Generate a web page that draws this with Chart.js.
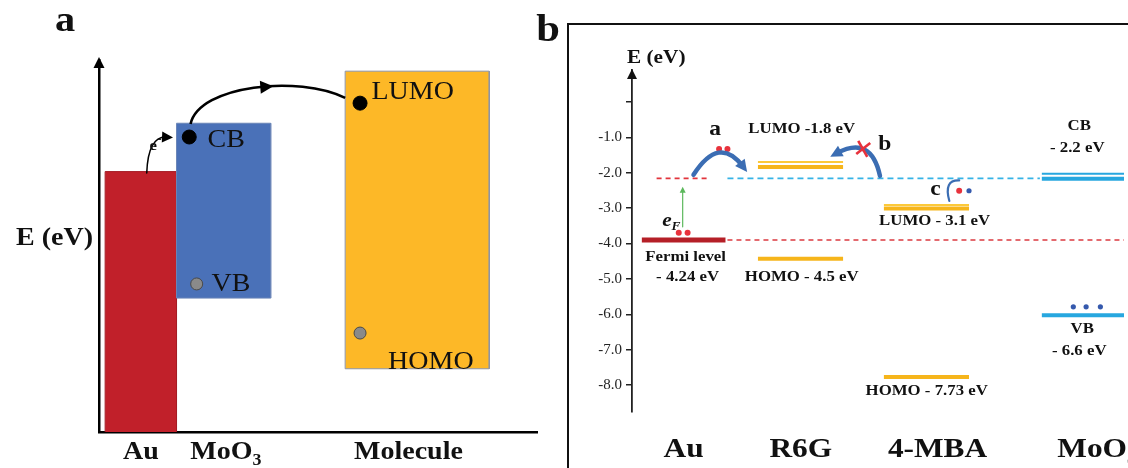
<!DOCTYPE html>
<html>
<head>
<meta charset="utf-8">
<script src="https://cdn.jsdelivr.net/npm/chart.js@4.4.1/dist/chart.umd.min.js"></script>
<style>
  html, body { margin: 0; padding: 0; background: #fff; overflow: hidden; }
  #wrap { position: relative; width: 1128px; height: 468px; }
  canvas { position: absolute; top: 0; }
  #panelA { left: 0; }
  #panelB { left: 530px; }
</style>
</head>
<body>
<div id="wrap">
  <canvas id="panelA" width="545" height="468"></canvas>
  <canvas id="panelB" width="598" height="468"></canvas>
</div>
<script>
// ---- panel a: schematic band alignment (arbitrary energy scale 0-100)
const materialsA = ['Au', 'MoO', 'Molecule'];
const bandTopA = [70, 83, 97];
const bandBottomA = [0, 36, 17];
const spanStartA = [1.4, 17.7, 56.2];
const spanEndA = [17.7, 39.2, 89.1];
const stateNamesA = ['CB', 'VB', 'LUMO', 'HOMO'];
const stateXA = [20.6, 22.3, 59.6, 59.6];
const stateYA = [79.3, 39.8, 88.4, 26.6];

// ---- panel b: energy levels (eV) as drawn
const speciesB = ['Au', 'R6G', '4-MBA', 'MoO'];
const colStartB = [0.2, 2.56, 5.12, 8.33];
const colEndB = [1.9, 4.29, 6.85, 10.6];
const auFermi = [-3.90];
const r6gLumo = [-1.70, -1.84];
const r6gHomo = [-4.43];
const mbaLumo = [-2.91, -3.01];
const mbaHomo = [-7.77];
const mooCB = [-2.03, -2.17];
const mooVB = [-6.03];
const injectLevel = [-2.16];
const tickValuesB = [0, -1, -2, -3, -4, -5, -6, -7, -8];
const redDotsX = [1.77, 1.94, 0.95, 1.13, 6.65];
const redDotsY = [-1.33, -1.33, -3.70, -3.70, -2.51];
const blueDotsX = [6.85, 8.97, 9.23, 9.52];
const blueDotsY = [-2.51, -5.79, -5.79, -5.79];

const SERIF = '"Liberation Serif", "Times New Roman", serif';
const SX = 1.12; // the figure's lettering is a bit wide

function drawText(ctx, s, x, y, font, align = 'center', color = '#111') {
  ctx.save();
  ctx.font = font;
  ctx.fillStyle = color;
  ctx.textBaseline = 'middle';
  ctx.textAlign = 'left';
  const w = ctx.measureText(s).width * SX;
  let x0 = x;
  if (align === 'center') x0 = x - w / 2;
  else if (align === 'right') x0 = x - w;
  ctx.translate(x0, y);
  ctx.scale(SX, 1);
  ctx.fillText(s, 0, 0);
  ctx.restore();
  return w;
}

function drawSubText(ctx, base, sub, x, y, size, weight, style = '') {
  const f1 = `${style} ${weight} ${size}px ${SERIF}`;
  const f2 = `${style} ${weight} ${Math.round(size * 0.62)}px ${SERIF}`;
  ctx.save();
  ctx.font = f1;
  const wb = ctx.measureText(base).width * SX;
  ctx.font = f2;
  const ws = ctx.measureText(sub).width * SX;
  ctx.restore();
  const x0 = x - (wb + ws) / 2;
  drawText(ctx, base, x0, y, f1, 'left');
  drawText(ctx, sub, x0 + wb, y + size * 0.3, f2, 'left');
}

function arrowHead(ctx, x, y, ang, size) {
  const c = Math.cos(ang), s = Math.sin(ang);
  ctx.beginPath();
  ctx.moveTo(x, y);
  ctx.lineTo(x - size * c + size * 0.5 * s, y - size * s - size * 0.5 * c);
  ctx.lineTo(x - size * c - size * 0.5 * s, y - size * s + size * 0.5 * c);
  ctx.closePath();
  ctx.fill();
}

function quadArrow(ctx, p0, c, p1, color, width, head) {
  ctx.save();
  ctx.strokeStyle = color;
  ctx.fillStyle = color;
  ctx.lineWidth = width;
  ctx.lineCap = 'round';
  const ang = Math.atan2(p1.y - c.y, p1.x - c.x);
  const k = head ? head * 0.6 : 0;
  ctx.beginPath();
  ctx.moveTo(p0.x, p0.y);
  ctx.quadraticCurveTo(c.x, c.y, p1.x - Math.cos(ang) * k, p1.y - Math.sin(ang) * k);
  ctx.stroke();
  if (head) arrowHead(ctx, p1.x, p1.y, ang, head);
  ctx.restore();
}

// ---------------- panel a ----------------
const boxColorsA = ['#c1202a', '#4a71b8', '#fdb827'];
const boxBorderA = ['#a51b24', '#6a86b8', '#8c94a8'];

// outline of each band: up, across, down; filled back down to its bottom energy
const boxSetsA = materialsA.map((m, i) => ({
  type: 'line',
  label: m,
  order: 3 - i,
  data: [
    { x: spanStartA[i], y: bandBottomA[i] },
    { x: spanStartA[i], y: bandTopA[i] },
    { x: spanEndA[i], y: bandTopA[i] },
    { x: spanEndA[i], y: bandBottomA[i] }
  ],
  borderColor: boxBorderA[i],
  borderWidth: 1,
  backgroundColor: boxColorsA[i],
  fill: { value: bandBottomA[i] },
  pointRadius: 0,
  tension: 0
}));

const stateSetA = {
  type: 'scatter',
  order: -1,
  data: stateXA.map((x, i) => ({ x, y: stateYA[i] })),
  pointRadius: [7, 6, 7, 6],
  backgroundColor: ['#000', '#8a8a8a', '#000', '#8a8a8a'],
  borderColor: ['#000', '#4a4a4a', '#000', '#4a4a4a'],
  borderWidth: 1
};

const panelADecor = {
  id: 'panelADecor',
  afterDraw(chart) {
    const { ctx, chartArea: a, scales: { x, y } } = chart;
    const px = v => x.getPixelForValue(v);
    const py = v => y.getPixelForValue(v);

    // bottom edges of the floating bands
    ctx.save();
    ctx.lineWidth = 1;
    [1, 2].forEach(i => {
      ctx.strokeStyle = boxBorderA[i];
      ctx.beginPath();
      ctx.moveTo(px(spanStartA[i]), py(bandBottomA[i]));
      ctx.lineTo(px(spanEndA[i]), py(bandBottomA[i]));
      ctx.stroke();
    });
    ctx.restore();

    // axis arrow
    ctx.fillStyle = '#000';
    arrowHead(ctx, a.left, a.top - 3, -Math.PI / 2, 11);

    drawText(ctx, 'a', 65, 22, `bold 36px ${SERIF}`);
    drawText(ctx, 'E (eV)', a.left - 6, py(52), `bold 25px ${SERIF}`, 'right');

    // state labels
    const offs = [4.2, 3.4, 2.6, 6.4];
    const dy = [-1, 0, 3, -8];
    stateNamesA.forEach((s, i) => {
      drawText(ctx, s, px(stateXA[i] + offs[i]), py(stateYA[i] + dy[i]), `25px ${SERIF}`, 'left');
    });

    // material labels under the axis
    const lblY = a.bottom + 21;
    drawText(ctx, 'Au', px((spanStartA[0] + spanEndA[0]) / 2), lblY, `bold 25px ${SERIF}`);
    drawSubText(ctx, 'MoO', '3', px((spanStartA[1] + spanEndA[1]) / 2 + 0.5), lblY, 25, 'bold');
    drawText(ctx, 'Molecule', px((spanStartA[2] + spanEndA[2]) / 2 - 2), lblY, `bold 25px ${SERIF}`);

    // e- hop from Au to CB
    quadArrow(ctx,
      { x: px(10.9), y: py(69.6) },
      { x: px(11.2), y: py(79.5) },
      { x: px(16.9), y: py(79.2) },
      '#000', 1.5, 11);
    drawText(ctx, 'e', px(12.4), py(76.8), `bold 15px ${SERIF}`);
    drawText(ctx, '-', px(13.8), py(78.6), `bold 11px ${SERIF}`);

    // big hop from CB to LUMO (cubic, arrowhead part way)
    const P = [[20.9, 82.8], [22.9, 93.3], [45.6, 96.0], [56.2, 89.8]].map(p => ({ x: px(p[0]), y: py(p[1]) }));
    ctx.save();
    ctx.strokeStyle = '#000';
    ctx.lineWidth = 2.6;
    ctx.beginPath();
    ctx.moveTo(P[0].x, P[0].y);
    ctx.bezierCurveTo(P[1].x, P[1].y, P[2].x, P[2].y, P[3].x, P[3].y);
    ctx.stroke();
    const t = 0.57, u = 1 - t;
    const bx = u * u * u * P[0].x + 3 * u * u * t * P[1].x + 3 * u * t * t * P[2].x + t * t * t * P[3].x;
    const by = u * u * u * P[0].y + 3 * u * u * t * P[1].y + 3 * u * t * t * P[2].y + t * t * t * P[3].y;
    const dx = 3 * u * u * (P[1].x - P[0].x) + 6 * u * t * (P[2].x - P[1].x) + 3 * t * t * (P[3].x - P[2].x);
    const dyy = 3 * u * u * (P[1].y - P[0].y) + 6 * u * t * (P[2].y - P[1].y) + 3 * t * t * (P[3].y - P[2].y);
    ctx.fillStyle = '#000';
    arrowHead(ctx, bx + 6, by, Math.atan2(dyy, dx), 13);
    ctx.restore();
  }
};

new Chart(document.getElementById('panelA'), {
  type: 'line',
  data: { datasets: [...boxSetsA, stateSetA] },
  options: {
    responsive: false,
    animation: false,
    events: [],
    layout: { padding: { left: 99, right: 5, top: 60, bottom: 36 } },
    plugins: { legend: { display: false }, tooltip: { enabled: false }, filler: { propagate: false } },
    scales: {
      x: {
        type: 'linear', min: 0, max: 100,
        ticks: { display: false }, grid: { display: false },
        border: { display: true, color: '#000', width: 2.5 },
        afterFit: s => { s.height = 0; }
      },
      y: {
        type: 'linear', min: 0, max: 100,
        ticks: { display: false }, grid: { display: false },
        border: { display: true, color: '#000', width: 2.5 },
        afterFit: s => { s.width = 0; }
      }
    }
  },
  plugins: [panelADecor]
});

// ---------------- panel b ----------------
function levelSet(x0, x1, y, color, width, dash) {
  return {
    type: 'line',
    data: [{ x: x0, y }, { x: x1, y }],
    borderColor: color,
    borderWidth: width,
    borderDash: dash || [],
    borderCapStyle: 'butt',
    pointRadius: 0,
    fill: false
  };
}

const yellowThin = '#fcc93a', yellow = '#f6b51b', cyan = '#27a7df';

const levelSetsB = [
  levelSet(0.5, 1.57, injectLevel[0], '#e2343c', 1.6, [5, 4]),
  levelSet(1.94, 8.29, injectLevel[0], '#36b3e6', 1.6, [6, 4]),
  levelSet(1.94, 10, auFermi[0], '#dc3a40', 1.4, [5, 4]),
  levelSet(colStartB[0], colEndB[0], auFermi[0], '#b51f27', 5),
  levelSet(colStartB[1], colEndB[1], r6gLumo[0], yellowThin, 2),
  levelSet(colStartB[1], colEndB[1], r6gLumo[1], yellow, 4),
  levelSet(colStartB[1], colEndB[1], r6gHomo[0], yellow, 4),
  levelSet(colStartB[2], colEndB[2], mbaLumo[0], yellowThin, 2),
  levelSet(colStartB[2], colEndB[2], mbaLumo[1], yellow, 4),
  levelSet(colStartB[2], colEndB[2], mbaHomo[0], yellow, 4),
  levelSet(colStartB[3], colEndB[3], mooCB[0], cyan, 2),
  levelSet(colStartB[3], colEndB[3], mooCB[1], cyan, 4),
  levelSet(colStartB[3], colEndB[3], mooVB[0], cyan, 4)
];

const dotSetsB = [
  { type: 'scatter', order: -1, data: redDotsX.map((x, i) => ({ x, y: redDotsY[i] })),
    pointRadius: 3, backgroundColor: '#e8323c', borderWidth: 0 },
  { type: 'scatter', order: -1, data: blueDotsX.map((x, i) => ({ x, y: blueDotsY[i] })),
    pointRadius: 2.6, backgroundColor: '#3559ad', borderWidth: 0 }
];

const panelBDecor = {
  id: 'panelBDecor',
  afterDraw(chart) {
    const { ctx, chartArea: a, scales: { x, y } } = chart;
    const px = v => x.getPixelForValue(v);
    const py = v => y.getPixelForValue(v);
    const P = (vx, vy) => ({ x: px(vx), y: py(vy) });
    const B15 = `bold 15px ${SERIF}`;
    const B20 = `bold 21px ${SERIF}`;

    // panel frame and letter
    ctx.save();
    ctx.strokeStyle = '#111';
    ctx.lineWidth = 2;
    ctx.beginPath();
    ctx.moveTo(38, chart.height);
    ctx.lineTo(38, 24);
    ctx.lineTo(chart.width, 24);
    ctx.stroke();
    ctx.restore();
    drawText(ctx, 'b', 18, 31, `bold 38px ${SERIF}`);

    // axis arrow + title
    ctx.fillStyle = '#111';
    arrowHead(ctx, a.left, a.top - 1, -Math.PI / 2, 10);
    drawText(ctx, 'E (eV)', a.left - 5, py(1.25), `bold 19px ${SERIF}`, 'left');

    // level labels
    drawText(ctx, 'a', px(1.69), py(-0.79), B20);
    drawText(ctx, 'LUMO -1.8 eV', px(3.45), py(-0.76), B15);
    drawText(ctx, 'b', px(5.14), py(-1.21), B20);
    drawText(ctx, 'CB', px(9.09), py(-0.68), B15);
    drawText(ctx, '- 2.2 eV', px(9.05), py(-1.30), B15);
    drawText(ctx, 'c', px(6.17), py(-2.49), B20);
    drawText(ctx, 'LUMO - 3.1 eV', px(6.15), py(-3.36), B15);
    drawSubText(ctx, 'e', 'F', px(0.8), py(-3.37), 19, 'bold', 'italic');
    drawText(ctx, 'Fermi level', px(1.09), py(-4.38), B15);
    drawText(ctx, '- 4.24 eV', px(1.13), py(-4.94), B15);
    drawText(ctx, 'HOMO - 4.5 eV', px(3.45), py(-4.94), B15);
    drawText(ctx, 'VB', px(9.15), py(-6.41), B15);
    drawText(ctx, '- 6.6 eV', px(9.09), py(-7.03), B15);
    drawText(ctx, 'HOMO - 7.73 eV', px(5.99), py(-8.16), B15);

    // species labels along the bottom
    const catY = py(-9.83);
    const catX = [1.05, 3.43, 6.21];
    speciesB.slice(0, 3).forEach((s, i) => drawText(ctx, s, px(catX[i]), catY, `bold 28px ${SERIF}`));
    drawSubText(ctx, speciesB[3], '3', px(9.45), catY, 28, 'bold');

    // transfer arrows
    const blue = '#3b6db3';
    quadArrow(ctx, P(1.25, -2.06), P(1.77, -0.93), P(2.34, -1.98), blue, 4.5, 12);
    quadArrow(ctx, P(5.04, -2.09), P(4.86, -0.93), P(4.03, -1.55), blue, 4.5, 12);
    quadArrow(ctx, P(6.45, -2.80), P(6.33, -2.20), P(6.65, -2.22), blue, 2.2, 0);
    quadArrow(ctx, P(1.03, -3.53), P(1.03, -3.0), P(1.03, -2.40), '#5cb85c', 1.2, 6);

    // blocked path
    const c = P(4.70, -1.33);
    ctx.save();
    ctx.strokeStyle = '#e8323c';
    ctx.lineWidth = 2.6;
    ctx.beginPath();
    ctx.moveTo(c.x - 5, c.y - 8); ctx.lineTo(c.x + 4, c.y + 8);
    ctx.moveTo(c.x + 7, c.y - 6); ctx.lineTo(c.x - 7, c.y + 5);
    ctx.stroke();
    ctx.restore();
  }
};

new Chart(document.getElementById('panelB'), {
  type: 'line',
  data: { datasets: [...levelSetsB, ...dotSetsB] },
  options: {
    responsive: false,
    animation: false,
    events: [],
    layout: { padding: { left: 52, right: 0, top: 70, bottom: 56 } },
    plugins: { legend: { display: false }, tooltip: { enabled: false } },
    scales: {
      x: { type: 'linear', display: false, min: 0, max: 10 },
      y: {
        type: 'linear', min: -8.76, max: 0.9, position: 'left',
        afterBuildTicks: s => { s.ticks = tickValuesB.map(v => ({ value: v })); },
        afterFit: s => { s.width = 50; },
        ticks: {
          autoSkip: false,
          padding: 4,
          color: '#222',
          font: { family: SERIF, size: 15 },
          callback: v => (v === 0 ? '' : v.toFixed(1))
        },
        grid: { drawOnChartArea: false, drawTicks: true, tickLength: 6, color: '#222', lineWidth: 1.5 },
        border: { display: true, color: '#222', width: 1.8 }
      }
    }
  },
  plugins: [panelBDecor]
});
</script>
</body>
</html>
